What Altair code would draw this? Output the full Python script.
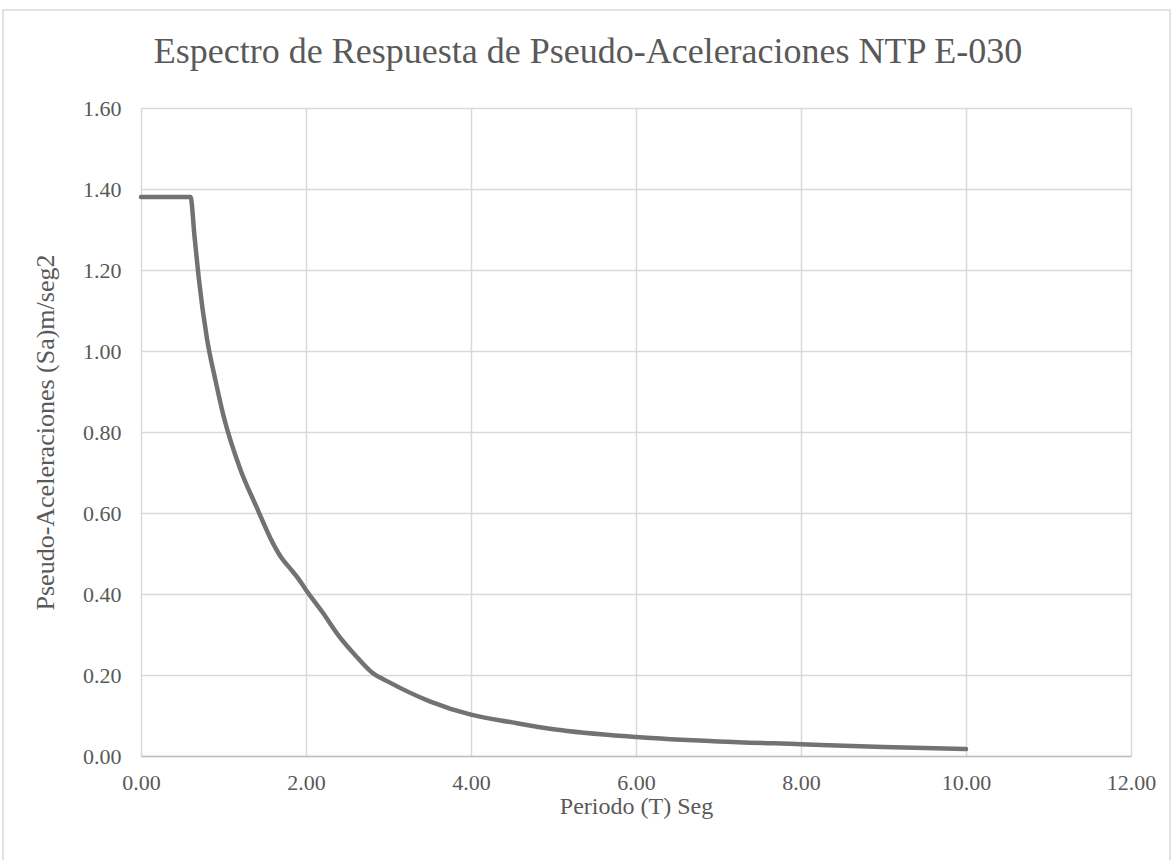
import altair as alt
import pandas as pd

periodo = [0.0, 0.6, 0.65, 0.7, 0.8, 0.9, 1.0, 1.2, 1.4, 1.6, 1.7, 1.8, 1.9, 2.0,
           2.2, 2.4, 2.6, 2.8, 3.0, 3.5, 4.0, 4.5, 5.0, 6.0, 7.0, 8.0, 9.0, 10.0]
sa = [1.38, 1.38, 1.28, 1.18, 1.03, 0.93, 0.84, 0.71, 0.615, 0.525, 0.49, 0.465, 0.44, 0.41,
      0.355, 0.296, 0.248, 0.206, 0.183, 0.135, 0.102, 0.083, 0.066, 0.047, 0.036, 0.029, 0.022, 0.017]

title_text = "Espectro de Respuesta de Pseudo-Aceleraciones NTP E-030"
x_title = "Periodo (T) Seg"
y_title = "Pseudo-Aceleraciones (Sa)m/seg2"

FONT = "Liberation Serif"
TXT = "#595959"
GRID = "#d9d9d9"

df = pd.DataFrame({"T": periodo, "Sa": sa})

W, H = 990, 648

line = alt.Chart(df).mark_line(
    color="#767171", strokeWidth=4.5, strokeCap="round", strokeJoin="round",
    interpolate="monotone", clip=False
).encode(
    x=alt.X("T:Q", scale=alt.Scale(domain=[0, 12], nice=False),
            axis=alt.Axis(values=[0, 2, 4, 6, 8, 10, 12], format=".2f", title=x_title,
                          labelFont=FONT, labelFontSize=22, labelColor=TXT, labelPadding=16,
                          labelFlush=False,
                          titleFont=FONT, titleFontSize=24, titleFontWeight="normal",
                          titleColor=TXT, titlePadding=1,
                          ticks=False, domainColor="#bfbfbf", domainWidth=1.5,
                          gridColor=GRID, gridWidth=1.5)),
    y=alt.Y("Sa:Q", scale=alt.Scale(domain=[0, 1.6], nice=False),
            axis=alt.Axis(values=[0, 0.2, 0.4, 0.6, 0.8, 1.0, 1.2, 1.4, 1.6], format=".2f",
                          title=y_title,
                          labelFont=FONT, labelFontSize=22, labelColor=TXT, labelPadding=20,
                          titleFont=FONT, titleFontSize=26, titleFontWeight="normal",
                          titleColor=TXT, titlePadding=24,
                          ticks=False, domain=False,
                          gridColor=GRID, gridWidth=1.5)),
)

title = alt.Chart(pd.DataFrame({"t": [title_text]})).mark_text(
    font=FONT, fontSize=36, color=TXT, align="center", baseline="alphabetic"
).encode(text="t:N", x=alt.value(588 - 141), y=alt.value(63 - 108))

border = alt.Chart(pd.DataFrame({"a": [0]})).mark_rect(
    fill=None, stroke=GRID, strokeWidth=1.5
).encode(x=alt.value(3 - 141), x2=alt.value(1170 - 141),
         y=alt.value(10 - 108), y2=alt.value(862 - 108))

chart = alt.layer(border, line, title).properties(
    width=W, height=H,
    autosize=alt.AutoSizeParams(type="none"),
    padding={"left": 141, "top": 108, "right": 42, "bottom": 104},
    background="white",
).configure_view(stroke=None)

chart.save("out.html", embed_options={"renderer": "svg", "actions": False})
